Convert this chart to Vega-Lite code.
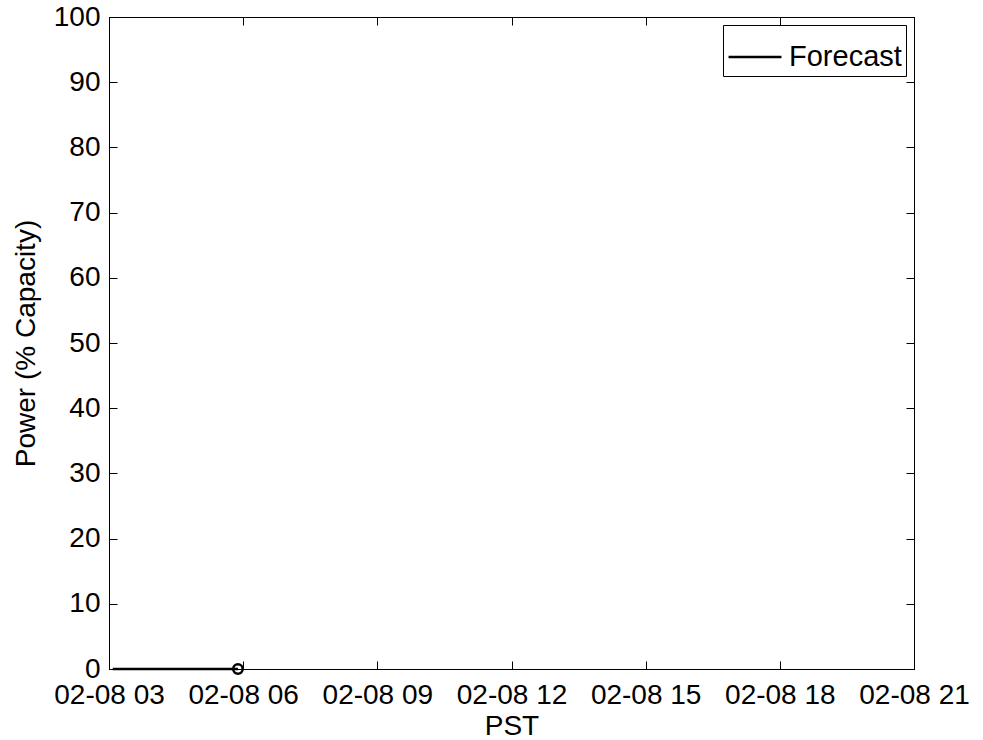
{
  "$schema": "https://vega.github.io/schema/vega-lite/v6.json",
  "autosize": "none",
  "width": 805,
  "height": 652,
  "padding": {"left": 109, "top": 17, "right": 69, "bottom": 71},
  "background": "white",
  "datasets": {
    "forecast": [
      {"time": "2013-02-08T03:05:00", "power": 0},
      {"time": "2013-02-08T03:30:00", "power": 0},
      {"time": "2013-02-08T04:00:00", "power": 0},
      {"time": "2013-02-08T04:30:00", "power": 0},
      {"time": "2013-02-08T05:00:00", "power": 0},
      {"time": "2013-02-08T05:30:00", "power": 0},
      {"time": "2013-02-08T05:53:00", "power": 0}
    ],
    "current": [
      {"time": "2013-02-08T05:53:00", "power": 0}
    ]
  },
  "layer": [
    {
      "data": {"name": "forecast"},
      "mark": {"type": "line", "strokeWidth": 2.5, "clip": false},
      "encoding": {
        "x": {
          "field": "time", "type": "temporal",
          "scale": {"domain": [{"year": 2013, "month": 2, "date": 8, "hours": 3}, {"year": 2013, "month": 2, "date": 8, "hours": 21}]},
          "axis": {
            "orient": "bottom",
            "title": "PST",
            "format": "%m-%d %H",
            "formatType": "time",
            "values": [
              {"year": 2013, "month": 2, "date": 8, "hours": 3},
              {"year": 2013, "month": 2, "date": 8, "hours": 6},
              {"year": 2013, "month": 2, "date": 8, "hours": 9},
              {"year": 2013, "month": 2, "date": 8, "hours": 12},
              {"year": 2013, "month": 2, "date": 8, "hours": 15},
              {"year": 2013, "month": 2, "date": 8, "hours": 18},
              {"year": 2013, "month": 2, "date": 8, "hours": 21}
            ],
            "labelPadding": 20,
            "titlePadding": 3,
            "labelFlush": false,
            "labelOverlap": false
          }
        },
        "y": {
          "field": "power", "type": "quantitative",
          "scale": {"domain": [0, 100], "nice": false},
          "axis": {
            "orient": "left",
            "title": "Power (% Capacity)",
            "values": [0, 10, 20, 30, 40, 50, 60, 70, 80, 90, 100],
            "labelPadding": 17,
            "titlePadding": 13,
            "labelFlush": false,
            "labelOverlap": false
          }
        },
        "color": {
          "datum": "Forecast",
          "type": "nominal",
          "scale": {"domain": ["Forecast"], "range": ["black"]},
          "legend": {"title": null}
        }
      }
    },
    {
      "data": {"name": "current"},
      "mark": {"type": "point", "shape": "circle", "filled": false, "color": "black", "strokeWidth": 2.5, "size": 90, "clip": false, "opacity": 1},
      "encoding": {
        "x": {"field": "time", "type": "temporal", "axis": {
            "orient": "top",
            "title": null,
            "labels": false,
            "values": [
              {"year": 2013, "month": 2, "date": 8, "hours": 3},
              {"year": 2013, "month": 2, "date": 8, "hours": 6},
              {"year": 2013, "month": 2, "date": 8, "hours": 9},
              {"year": 2013, "month": 2, "date": 8, "hours": 12},
              {"year": 2013, "month": 2, "date": 8, "hours": 15},
              {"year": 2013, "month": 2, "date": 8, "hours": 18},
              {"year": 2013, "month": 2, "date": 8, "hours": 21}
            ]
          }},
        "y": {"field": "power", "type": "quantitative", "axis": {
            "orient": "right",
            "title": null,
            "labels": false,
            "values": [0, 10, 20, 30, 40, 50, 60, 70, 80, 90, 100]
          }}
      }
    }
  ],
  "resolve": {"axis": {"x": "independent", "y": "independent"}},
  "config": {
    "view": {"stroke": "black", "strokeWidth": 1},
    "font": "Liberation Sans",
    "axis": {
      "grid": false,
      "domainColor": "black",
      "domainWidth": 1,
      "tickColor": "black",
      "tickWidth": 1,
      "tickSize": -8,
      "labelColor": "black",
      "labelFont": "Liberation Sans",
      "labelFontSize": 28,
      "titleColor": "black",
      "titleFont": "Liberation Sans",
      "titleFontSize": 28,
      "titleFontWeight": "normal"
    },
    "legend": {
      "orient": "top-right",
      "offset": 8,
      "strokeColor": "black",
      "fillColor": "white",
      "padding": 4,
      "labelFont": "Liberation Sans",
      "labelFontSize": 29,
      "labelColor": "black",
      "symbolType": "stroke",
      "symbolStrokeWidth": 2.5,
      "symbolSize": 2800,
      "labelOffset": 6
    }
  }
}
